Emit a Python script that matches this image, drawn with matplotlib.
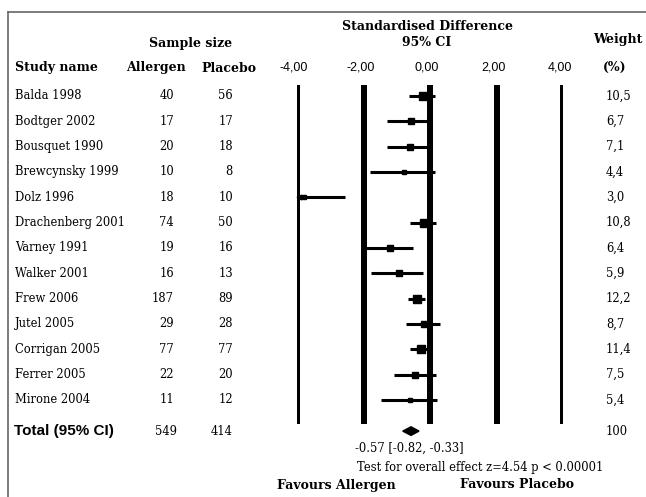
import matplotlib
matplotlib.use("Agg")
import matplotlib.pyplot as plt
from matplotlib.lines import Line2D
from matplotlib.patches import Polygon
from matplotlib import transforms

# data
studies = ["Balda 1998", "Bodtger 2002", "Bousquet 1990", "Brewcynsky 1999",
           "Dolz 1996", "Drachenberg 2001", "Varney 1991", "Walker 2001",
           "Frew 2006", "Jutel 2005", "Corrigan 2005", "Ferrer 2005", "Mirone 2004"]
n_allergen = [40, 17, 20, 10, 18, 74, 19, 16, 187, 29, 77, 22, 11]
n_placebo = [56, 17, 18, 8, 10, 50, 16, 13, 89, 28, 77, 20, 12]
effect = [-0.22, -0.57, -0.60, -0.78, -3.78, -0.18, -1.20, -0.93, -0.39, -0.18, -0.27, -0.45, -0.60]
ci_low = [-0.63, -1.29, -1.29, -1.80, -4.00, -0.60, -1.95, -1.77, -0.66, -0.72, -0.60, -1.08, -1.47]
ci_high = [0.15, 0.00, 0.03, 0.15, -2.55, 0.18, -0.51, -0.21, -0.15, 0.30, 0.03, 0.18, 0.21]
weights = ["10,5", "6,7", "7,1", "4,4", "3,0", "10,8", "6,4", "5,9", "12,2", "8,7", "11,4", "7,5", "5,4"]
weight_vals = [10.5, 6.7, 7.1, 4.4, 3.0, 10.8, 6.4, 5.9, 12.2, 8.7, 11.4, 7.5, 5.4]
total_n = [549, 414]
total_effect = -0.57
total_ci = [-0.82, -0.33]
ticks = [-4, -2, 0, 2, 4]
tick_labels = ["-4,00", "-2,00", "0,00", "2,00", "4,00"]

W, H = 646, 497
fig = plt.figure(figsize=(W / 100, H / 100), dpi=100)

# forest axes: x -4..4 spans px 297..563, y rows span px 85..424
ax = fig.add_axes([297 / W, 1 - 424 / H, (563 - 297) / W, (424 - 85) / H])
ax.set_xlim(-4, 4)
ax.set_ylim(12.95, -0.43)
ax.axis("off")

for t in ticks:
    ax.axvline(t, color="black", lw=2.9, antialiased=False)

total_row = 13.23
for i in range(len(studies)):
    ax.plot([ci_low[i], ci_high[i]], [i, i], color="black", lw=2.2, solid_capstyle="butt")
    ax.plot(effect[i], i, marker="s", color="black", ms=(2 + 0.55 * weight_vals[i]) * 0.72,
            clip_on=False)
    if ci_low[i] <= -4:
        ax.plot(-3.93, i, marker="<", color="black", ms=3.5, clip_on=False)

diamond = Polygon([[total_ci[0], total_row], [total_effect, total_row - 0.17],
                   [total_ci[1], total_row], [total_effect, total_row + 0.17]],
                  closed=True, color="black", clip_on=False)
ax.add_patch(diamond)

# table text
serif = "DejaVu Serif"
sans = "Liberation Sans"
rowtr = transforms.blended_transform_factory(fig.transFigure, ax.transData)
fs = 8.3


def fx(px):
    return px / W


def fy(py):
    return 1 - py / H


for i, name in enumerate(studies):
    fig.text(fx(15), i, name, transform=rowtr, family=serif, fontsize=fs, va="center")
    fig.text(fx(174), i, str(n_allergen[i]), transform=rowtr, family=serif, fontsize=fs,
             va="center", ha="right")
    fig.text(fx(233), i, str(n_placebo[i]), transform=rowtr, family=serif, fontsize=fs,
             va="center", ha="right")
    fig.text(fx(606), i, weights[i], transform=rowtr, family=serif, fontsize=fs, va="center")

fig.text(fx(14), total_row, "Total (95% CI)", transform=rowtr, family=sans, fontsize=11,
         fontweight="bold", va="center")
fig.text(fx(177), total_row, str(total_n[0]), transform=rowtr, family=serif, fontsize=fs,
         va="center", ha="right")
fig.text(fx(233), total_row, str(total_n[1]), transform=rowtr, family=serif, fontsize=fs,
         va="center", ha="right")
fig.text(fx(606), total_row, "100", transform=rowtr, family=serif, fontsize=fs, va="center")

# headers
hdr = dict(family=serif, fontsize=9, fontweight="bold", va="center")
fig.text(fx(191), fy(43), "Sample size", ha="center", **hdr)
fig.text(fx(15), fy(68), "Study name", ha="left", **hdr)
fig.text(fx(156), fy(68), "Allergen", ha="center", **hdr)
fig.text(fx(229), fy(68), "Placebo", ha="center", **hdr)
fig.text(fx(427), fy(26), "Standardised Difference", ha="center", **hdr)
fig.text(fx(427), fy(43), "95% CI", ha="center", **hdr)
fig.text(fx(618), fy(40), "Weight", ha="center", **hdr)
fig.text(fx(615), fy(67), "(%)", ha="center", **hdr)

# tick labels above the reference lines
tick_tr = transforms.blended_transform_factory(ax.transData, fig.transFigure)
shift = transforms.ScaledTranslation(-3 / 100, 0, fig.dpi_scale_trans)
for t, lab in zip(ticks, tick_labels):
    fig.text(t, fy(68), lab, transform=tick_tr + shift, family=sans, fontsize=9,
             ha="center", va="center")

fig.text(fx(355), fy(448), "-0.57 [-0.82, -0.33]", family=serif, fontsize=fs, va="center")
fig.text(fx(357), fy(467), "Test for overall effect z=4.54 p < 0.00001", family=serif,
         fontsize=fs, va="center")
fig.text(fx(277), fy(485), "Favours Allergen", ha="left", **hdr)
fig.text(fx(460), fy(485), "Favours Placebo", ha="left", **hdr)

# partial frame
fig.add_artist(Line2D([fx(8), 1], [fy(12), fy(12)], color="#666666", lw=1.2))
fig.add_artist(Line2D([fx(8), fx(8)], [fy(12), 0], color="#666666", lw=1.2))

fig.savefig("out.png", dpi=100)
